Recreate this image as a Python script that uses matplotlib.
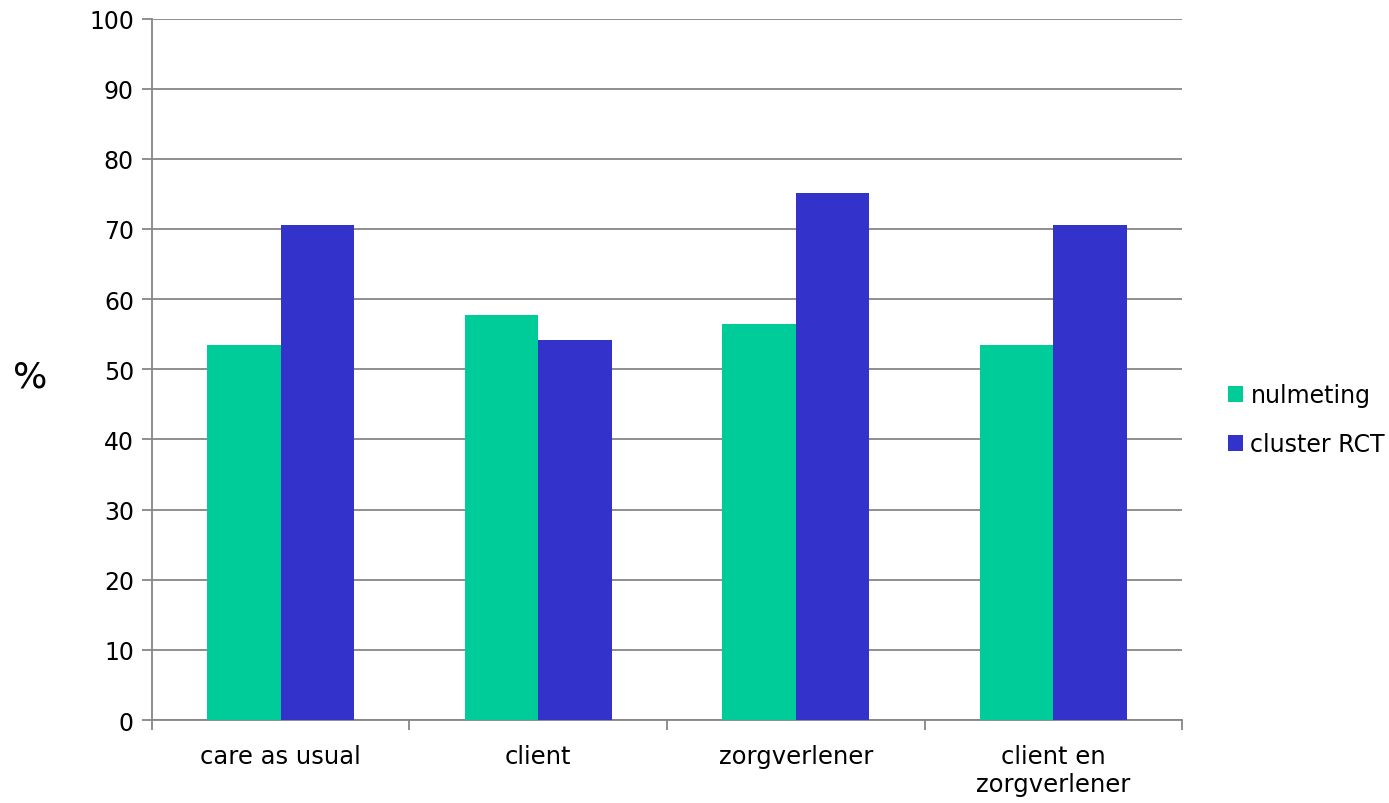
import numpy as np
import matplotlib.pyplot as plt

# --- data ---
categories = ['care as usual', 'client', 'zorgverlener', 'client en\nzorgverlener']
nulmeting = [53.4, 57.7, 56.5, 53.4]
cluster_rct = [70.5, 54.2, 75.1, 70.5]
series_names = ['nulmeting', 'cluster RCT']
yticks = list(range(0, 101, 10))

green = '#00CC99'
blue = '#3333CC'
grey = '#868686'

plt.rcParams['font.family'] = ['DejaVu Sans']

fig = plt.figure(figsize=(13.89, 8.04), dpi=100)
ax = fig.add_axes([0.1094, 0.1032, 0.851 - 0.1094, 0.9757 - 0.1032])

x = np.arange(len(categories))
w = 1 / 3.5
ax.bar(x - w / 2, nulmeting, width=w, color=green, label=series_names[0], zorder=3)
ax.bar(x + w / 2, cluster_rct, width=w, color=blue, label=series_names[1], zorder=3)

ax.set_xlim(-0.5, len(categories) - 0.5)
ax.set_ylim(0, 100)
ax.set_yticks(yticks)
ax.yaxis.grid(True, color=grey, lw=1.3, zorder=0)
ax.set_axisbelow(True)

# category labels centred, ticks on the boundaries
ax.set_xticks(np.arange(-0.5, len(categories)), minor=False)
ax.set_xticklabels([])
ax.set_xticks(x, minor=True)
ax.set_xticklabels(categories, minor=True, fontsize=17.5, linespacing=1.25)
ax.tick_params(axis='x', which='minor', length=0, pad=17)
ax.tick_params(axis='x', which='major', length=7, color=grey, width=1.3)
ax.tick_params(axis='y', length=7, color=grey, width=1.3, labelsize=17, pad=6)

for s in ['top', 'right']:
    ax.spines[s].set_visible(False)
for s in ['left', 'bottom']:
    ax.spines[s].set_color(grey)
    ax.spines[s].set_linewidth(1.3)

fig.text(30 / 1389, 1 - 378 / 804, '%', fontsize=26, ha='center', va='center')

ax.legend(loc='center left', bbox_to_anchor=(1.024, 0.428), frameon=False,
          fontsize=17, handlelength=0.65, handleheight=0.65, handletextpad=0.3,
          labelspacing=1.05)

fig.savefig('out.png', dpi=100)
